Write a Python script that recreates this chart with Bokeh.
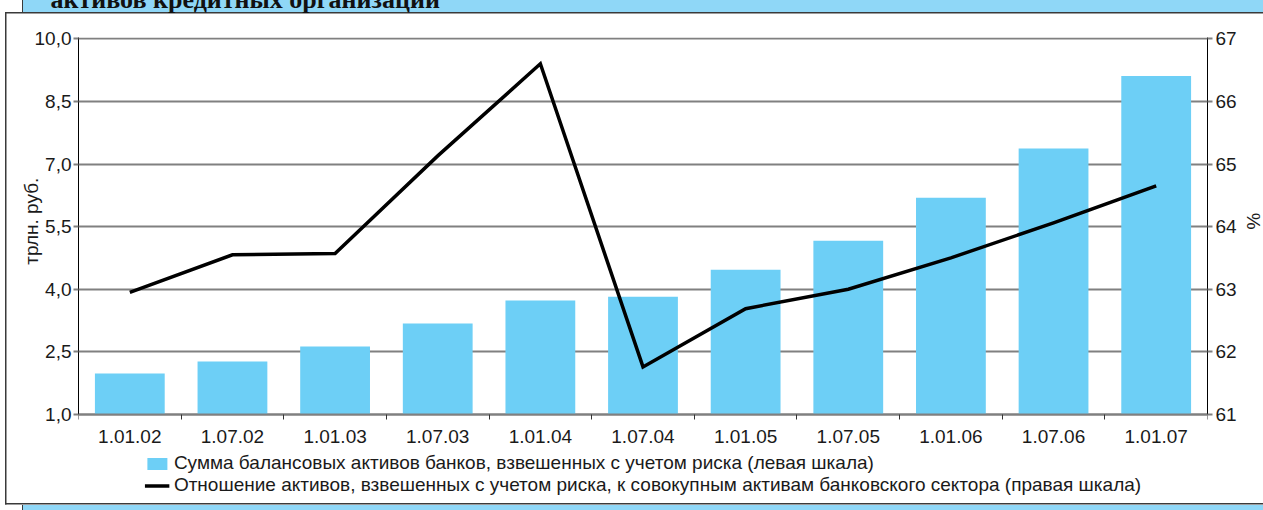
from bokeh.plotting import figure
from bokeh.models import (Range1d, LinearAxis, FixedTicker, Legend, LegendItem,
                          CustomJSTickFormatter)
from bokeh.embed import file_html
from bokeh.resources import INLINE

# ---------------- data ----------------
title_text = "активов кредитных организаций"
dates = ["1.01.02", "1.07.02", "1.01.03", "1.07.03", "1.01.04", "1.07.04",
         "1.01.05", "1.07.05", "1.01.06", "1.07.06", "1.01.07"]
assets = [1.98, 2.27, 2.63, 3.18, 3.73, 3.82, 4.47, 5.16, 6.19, 7.37, 9.11]
ratio = [62.95, 63.55, 63.57, 65.13, 66.60, 61.76, 62.69, 63.00, 63.50, 64.06, 64.65]
left_ticks = [1.0, 2.5, 4.0, 5.5, 7.0, 8.5, 10.0]
left_tick_labels = ["1,0", "2,5", "4,0", "5,5", "7,0", "8,5", "10,0"]
right_ticks = [61, 62, 63, 64, 65, 66, 67]
right_tick_labels = ["61", "62", "63", "64", "65", "66", "67"]
left_axis_label = "трлн. руб."
right_axis_label = "%"
bar_label = "Сумма балансовых активов банков, взвешенных с учетом риска (левая шкала)"
line_label = ("Отношение активов, взвешенных с учетом риска, к совокупным активам "
              "банковского сектора (правая шкала)")

FONT = "Liberation Sans"
TXT = "#1a1a1a"
GRID = "#808080"
BAR = "#6dcff6"
STRIP = "#8fd7f7"
BORDER = "#3a3a3a"

# ---------------- layout (pixels) ----------------
T = 43            # canvas part above the page top (holds the cut-off heading)
BB = 40           # canvas part below the page bottom (holds the x-axis panel)
W = 1266          # canvas width (right edge bleeds a few px past the window)
H = T + 510 + BB
PLOT_H = 377      # height of the value area (1,0 .. 10,0)
LEG_H = 96        # space for labels and legend under the value area, inside the frame
pad = 0.03        # keeps the top grid line inside the frame
NBSP = "\u00a0"
LIFT = NBSP * 20  # lifts the axis titles to the middle of the value scale

LOOKUP = ("const i = tv.findIndex(t => Math.abs(t - tick) < 1e-6); "
          "return i >= 0 ? lv[i] : '';")


def rect(color, x, y, w, h):
    return f"linear-gradient({color},{color}) {x}px {y + T}px / {w}px {h}px no-repeat"


background = ", ".join([
    rect(BORDER, 5, 12, W, 1.5),
    rect(BORDER, 5, 12, 1.5, 492.5),
    rect(BORDER, 5, 503, W, 1.5),
    rect(BORDER, 21.5, -T, 1, 12 + T),
    rect(BORDER, 21.5, 504.5, 1, 6),
    rect(STRIP, 22, -T, W, 12 + T),
    rect(STRIP, 22, 504.5, W, 6),
]) + ", #ffffff"

l_lo, l_hi = left_ticks[0], left_ticks[-1] + pad
r_pad = pad * (right_ticks[-1] - right_ticks[0]) / (left_ticks[-1] - left_ticks[0])
r_lo, r_hi = right_ticks[0], right_ticks[-1] + r_pad
ext = LEG_H / PLOT_H

p = figure(width=W, height=H,
           x_range=Range1d(-0.5, len(dates) - 0.5),
           y_range=Range1d(l_lo - ext * (l_hi - l_lo), l_hi),
           output_backend="svg", toolbar_location=None,
           min_border_left=78, min_border_right=54,
           min_border_top=80, min_border_bottom=BB)
p.styles = {"position": "fixed", "left": "0px", "top": f"-{T}px",
            "background": background}
p.outline_line_color = None
p.background_fill_color = None
p.border_fill_color = None

# heading fragment (cut by the top of the page, as in the original)
p.title.text = title_text
p.title.text_font = "Liberation Serif"
p.title.text_font_style = "bold"
p.title.text_font_size = "26px"
p.title.text_color = "#111111"
p.title.align = "left"
p.title.offset = -28
p.title.standoff = 48
p.title.vertical_align = "bottom"

xs = list(range(len(dates)))
bars = p.vbar(x=xs, top=assets, bottom=left_ticks[0], width=0.68,
              fill_color=BAR, line_color=None)

p.extra_y_ranges = {"pct": Range1d(r_lo - ext * (r_hi - r_lo), r_hi)}
line = p.line(x=xs, y=ratio, y_range_name="pct", line_color="black",
              line_width=3.5, line_join="miter")

# x axis, drawn at 1,0
xa = p.xaxis[0]
xa.fixed_location = left_ticks[0]
xa.ticker = FixedTicker(ticks=xs, minor_ticks=[i - 0.5 for i in range(len(dates) + 1)])
xa.major_label_overrides = {i: d for i, d in enumerate(dates)}
xa.major_tick_line_color = None
xa.major_tick_out = 0
xa.major_tick_in = 0
xa.minor_tick_out = 5
xa.minor_tick_in = 0
xa.minor_tick_line_color = "#333333"
xa.minor_tick_line_width = 1
xa.axis_line_color = GRID
xa.axis_line_width = 2
xa.major_label_text_font = FONT
xa.major_label_text_font_size = "19px"
xa.major_label_text_color = TXT
xa.major_label_standoff = 10

# left axis
ya = p.yaxis[0]
ya.bounds = (l_lo, l_hi)
ya.ticker = FixedTicker(ticks=left_ticks, minor_ticks=[])
ya.formatter = CustomJSTickFormatter(args=dict(tv=left_ticks, lv=left_tick_labels),
                                     code=LOOKUP)
ya.axis_line_color = "black"
ya.axis_line_width = 1
ya.major_tick_line_color = GRID
ya.major_tick_line_width = 2
ya.major_tick_out = 5
ya.major_tick_in = 0
ya.minor_tick_line_color = None
ya.major_label_standoff = 2
ya.major_label_text_font = FONT
ya.major_label_text_font_size = "19px"
ya.major_label_text_color = TXT
ya.axis_label = LIFT + left_axis_label
ya.axis_label_standoff = -10
ya.axis_label_text_font = FONT
ya.axis_label_text_font_size = "19px"
ya.axis_label_text_font_style = "normal"
ya.axis_label_text_color = TXT

# right axis
ra = LinearAxis(y_range_name="pct", bounds=(r_lo, r_hi),
                ticker=FixedTicker(ticks=right_ticks, minor_ticks=[]),
                formatter=CustomJSTickFormatter(args=dict(tv=right_ticks, lv=right_tick_labels),
                                                code=LOOKUP))
ra.axis_line_color = "black"
ra.axis_line_width = 1
ra.major_tick_line_color = GRID
ra.major_tick_line_width = 2
ra.major_tick_out = 5
ra.major_tick_in = 0
ra.minor_tick_line_color = None
ra.major_label_standoff = 3
ra.major_label_text_font = FONT
ra.major_label_text_font_size = "19px"
ra.major_label_text_color = TXT
ra.axis_label = right_axis_label + LIFT
ra.axis_label_standoff = 3
ra.axis_label_text_font = FONT
ra.axis_label_text_font_size = "19px"
ra.axis_label_text_font_style = "normal"
ra.axis_label_text_color = TXT
p.add_layout(ra, "right")

# grid
p.xgrid.visible = False
p.ygrid.ticker = ya.ticker
p.ygrid.bounds = (l_lo, l_hi)
p.ygrid.grid_line_color = GRID
p.ygrid.grid_line_width = 2

# legend under the x-axis labels (inside the frame)
legend = Legend(items=[LegendItem(label=bar_label, renderers=[bars]),
                       LegendItem(label=line_label, renderers=[line])],
                location="bottom_center", orientation="vertical",
                glyph_width=25, glyph_height=15, label_standoff=5,
                spacing=0, padding=0, margin=14,
                border_line_color=None, background_fill_alpha=0,
                label_text_font=FONT, label_text_font_size="19px",
                label_text_color=TXT)
p.add_layout(legend)

open("out.html", "w").write(file_html(p, INLINE))
